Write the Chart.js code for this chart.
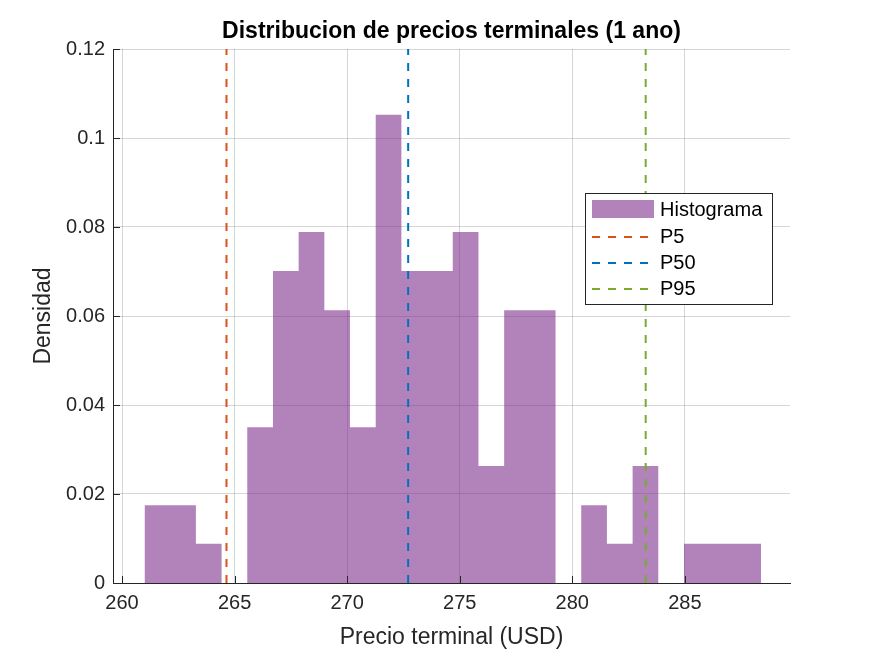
<!DOCTYPE html>
<html>
<head>
<meta charset="utf-8">
<script src="https://cdn.jsdelivr.net/npm/chart.js@4/dist/chart.umd.min.js"></script>
<style>
  body { margin: 0; background: #fff; }
  #wrap { width: 875px; height: 656px; }
</style>
</head>
<body>
<div id="wrap"><canvas id="histChart"></canvas></div>
<script>
// Histogram bin edges (USD) and density per bin
const binEdges = [261.000, 262.141, 263.282, 264.423, 265.564, 266.705, 267.846, 268.987,
                  270.128, 271.269, 272.410, 273.551, 274.692, 275.833, 276.974, 278.115,
                  279.256, 280.397, 281.538, 282.679, 283.820, 284.961, 286.102, 287.243,
                  288.384];
const densities = [0.0175, 0.0175, 0.0088, 0, 0.0350, 0.0701, 0.0789, 0.0613, 0.0350,
                   0.1052, 0.0701, 0.0701, 0.0789, 0.0263, 0.0613, 0.0613, 0, 0.0175,
                   0.0088, 0.0263, 0, 0.0088, 0.0088, 0.0088];

// Percentiles
const percentileNames = ['P5', 'P50', 'P95'];
const percentileValues = [264.64, 272.71, 283.26];
const percentileColors = ['#D95319', '#0072BD', '#77AC30'];

// Axes
const xTicks = [260, 265, 270, 275, 280, 285];
const yTicks = [0, 0.02, 0.04, 0.06, 0.08, 0.1, 0.12];
const yTickLabels = ['0', '0.02', '0.04', '0.06', '0.08', '0.1', '0.12'];
const xRange = [259.6, 289.67];
const yRange = [0, 0.12];

const histFill = 'rgba(126, 47, 142, 0.6)';
const axisColor = '#262626';
const gridColor = 'rgba(38,38,38,0.19)';
const fontFamily = '"Liberation Sans", Arial, Helvetica, sans-serif';

// each bin starts at its left edge and holds its density up to the next edge
const histData = binEdges.map((e, i) => ({
    x: e,
    y: i < densities.length ? densities[i] : densities[densities.length - 1]
}));

const lineSets = percentileValues.map((p, i) => ({
    label: percentileNames[i],
    data: [{ x: p, y: yRange[0] }, { x: p, y: yRange[1] }],
    borderColor: percentileColors[i],
    borderWidth: 2,
    borderDash: [8, 8],
    pointRadius: 0,
    fill: false,
    order: 0
}));

// MATLAB style inward ticks
const innerTicks = {
    id: 'innerTicks',
    afterDraw(chart) {
        const { ctx, chartArea, scales } = chart;
        ctx.save();
        ctx.strokeStyle = axisColor;
        ctx.lineWidth = 1;
        ctx.beginPath();
        xTicks.forEach(v => {
            const px = Math.round(scales.x.getPixelForValue(v)) + 0.5;
            ctx.moveTo(px, chartArea.bottom);
            ctx.lineTo(px, chartArea.bottom - 7);
        });
        yTicks.forEach(v => {
            const py = Math.round(scales.y.getPixelForValue(v)) + 0.5;
            ctx.moveTo(chartArea.left, py);
            ctx.lineTo(chartArea.left + 7, py);
        });
        ctx.stroke();
        ctx.restore();
    }
};

// Legend box inside the axes, upper right
const boxLegend = {
    id: 'boxLegend',
    afterDraw(chart) {
        const ctx = chart.ctx;
        const left = 585.5, top = 193.5, width = 187, height = 111;
        ctx.save();
        ctx.fillStyle = '#fff';
        ctx.fillRect(left, top, width, height);
        ctx.strokeStyle = axisColor;
        ctx.lineWidth = 1;
        ctx.strokeRect(left, top, width, height);

        ctx.font = '20px ' + fontFamily;
        ctx.textBaseline = 'middle';
        ctx.textAlign = 'left';

        ctx.fillStyle = histFill;
        ctx.fillRect(592, 200, 62, 18);
        ctx.fillStyle = '#000';
        ctx.fillText('Histograma', 660, 210);

        const rows = [237, 263, 289];
        percentileNames.forEach((name, i) => {
            ctx.strokeStyle = percentileColors[i];
            ctx.lineWidth = 2;
            ctx.setLineDash([8, 8]);
            ctx.beginPath();
            ctx.moveTo(592, rows[i]);
            ctx.lineTo(649, rows[i]);
            ctx.stroke();
            ctx.setLineDash([]);
            ctx.fillStyle = '#000';
            ctx.fillText(name, 660, rows[i]);
        });
        ctx.restore();
    }
};

const ctx = document.getElementById('histChart').getContext('2d');
new Chart(ctx, {
    type: 'line',
    data: {
        datasets: [...lineSets, {
            label: 'Histograma',
            data: histData,
            stepped: 'before',
            fill: 'origin',
            backgroundColor: histFill,
            borderColor: 'transparent',
            borderWidth: 0,
            pointRadius: 0,
            order: 1
        }]
    },
    options: {
        responsive: true,
        maintainAspectRatio: false,
        animation: false,
        layout: { padding: { left: 0, right: 85, top: 0, bottom: 0 } },
        plugins: {
            legend: { display: false },
            tooltip: { enabled: false },
            title: {
                display: true,
                fullSize: false,
                text: 'Distribucion de precios terminales (1 ano)',
                color: '#000',
                font: { family: fontFamily, size: 23, weight: 'bold' },
                padding: { top: 18, bottom: 3.4 }
            }
        },
        scales: {
            x: {
                type: 'linear',
                min: xRange[0],
                max: xRange[1],
                afterBuildTicks: s => { s.ticks = xTicks.map(v => ({ value: v })); },
                afterFit: s => { s.height = 73; },
                ticks: {
                    color: axisColor,
                    padding: 8,
                    maxRotation: 0,
                    font: { family: fontFamily, size: 20 }
                },
                grid: { color: gridColor, drawTicks: false },
                border: { display: true, color: axisColor, width: 1 },
                title: {
                    display: true,
                    text: 'Precio terminal (USD)',
                    color: axisColor,
                    font: { family: fontFamily, size: 23 },
                    padding: { top: 0, bottom: 5 }
                }
            },
            y: {
                min: yRange[0],
                max: yRange[1],
                afterBuildTicks: s => { s.ticks = yTicks.map(v => ({ value: v })); },
                afterFit: s => { s.width = 113; },
                ticks: {
                    color: axisColor,
                    padding: 8,
                    font: { family: fontFamily, size: 20 },
                    callback: (v, i) => yTickLabels[i]
                },
                grid: { color: gridColor, drawTicks: false },
                border: { display: true, color: axisColor, width: 1 },
                title: {
                    display: true,
                    text: 'Densidad',
                    color: axisColor,
                    font: { family: fontFamily, size: 23 },
                    padding: { top: 30, bottom: 0 }
                }
            }
        }
    },
    plugins: [innerTicks, boxLegend]
});
</script>
</body>
</html>
